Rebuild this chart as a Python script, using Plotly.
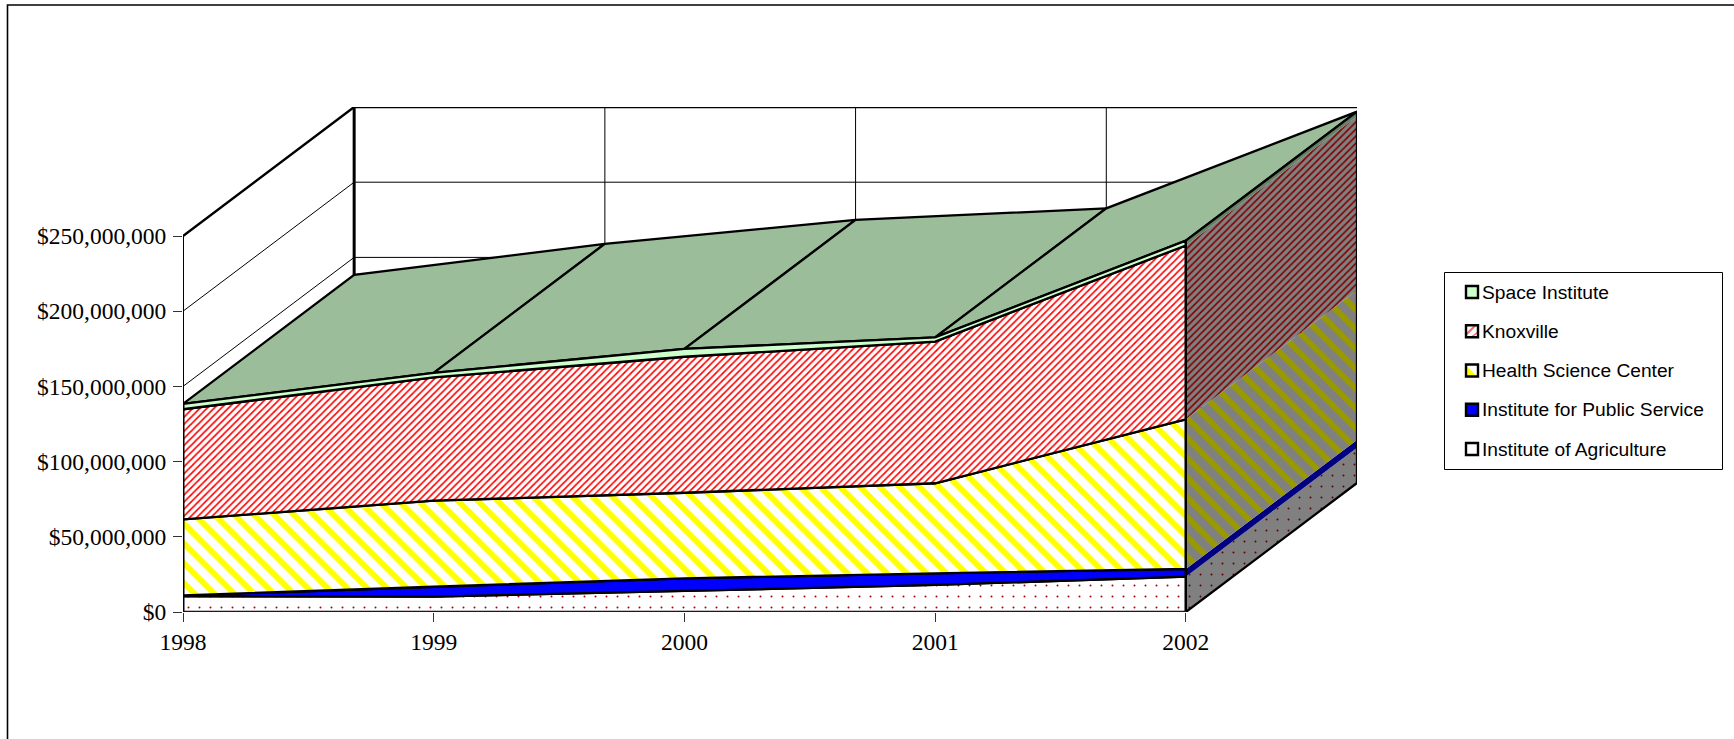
import numpy as np
import plotly.graph_objects as go

# ---- data (dollars) ----
years = [1998, 1999, 2000, 2001, 2002]
agriculture = [10.5e6, 10.2e6, 14.0e6, 18.0e6, 23.5e6]
public_service = [0.5e6, 6.6e6, 8.4e6, 7.7e6, 5.1e6]
health_science = [50.6e6, 57.2e6, 56.9e6, 59.9e6, 99.5e6]
knoxville = [73.2e6, 82.0e6, 90.4e6, 94.2e6, 115.6e6]
space_institute = [3.6e6, 3.0e6, 5.2e6, 2.8e6, 3.2e6]
y_ticks = [0, 50e6, 100e6, 150e6, 200e6, 250e6]
series_names = ["Institute of Agriculture", "Institute for Public Service",
                "Health Science Center", "Knoxville", "Space Institute"]

# ---- layout constants ----
W, H = 1734, 739
ML, MR, MT, MB = 183, 377, 107, 127
DEPTH_X = 171 / 250.5      # years per full depth
DEPTH_Y = 129 / 1.504e-6   # dollars per full depth


def px(x):
    return (x - ML) / (W - ML - MR)


def py(y):
    return 1 - (y - MT) / (H - MT - MB)


def proj(x, v, d=0.0):
    x, v = np.asarray(x, float), np.asarray(v, float)
    return x + DEPTH_X * d, v + DEPTH_Y * d


BLACK = "#000000"
styles = {
    "Institute of Agriculture": dict(
        front=dict(shape=".", size=11, solidity=0.025, fgcolor="#B00000", bgcolor="#FFFFFF", fgopacity=1),
        side=dict(shape=".", size=11, solidity=0.025, fgcolor="#600000", bgcolor="#808080", fgopacity=1)),
    "Institute for Public Service": dict(solid="#0000FF", side_solid="#000080"),
    "Health Science Center": dict(
        front=dict(shape="\\", size=14, solidity=0.42, fgcolor="#FFFF00", bgcolor="#FFFFFF", fgopacity=1),
        side=dict(shape="\\", size=14, solidity=0.42, fgcolor="#999900", bgcolor="#808080", fgopacity=1)),
    "Knoxville": dict(
        front=dict(shape="/", size=5, solidity=0.33, fgcolor="#FF0000", bgcolor="#FFFFFF", fgopacity=1),
        side=dict(shape="/", size=5, solidity=0.33, fgcolor="#800000", bgcolor="#808080", fgopacity=1)),
    "Space Institute": dict(solid="#CCFFCC", side_solid="#668066"),
}

values = [agriculture, public_service, health_science, knoxville, space_institute]
tops = np.cumsum(np.array(values, float), axis=0)
bottoms = np.vstack([np.zeros(len(years)), tops[:-1]])
yr = np.array(years, float)

fig = go.Figure()


def line(x, y, width=1.0, color=BLACK, name="frame"):
    fig.add_trace(go.Scatter(x=list(x), y=list(y), mode="lines", cliponaxis=False,
                             line=dict(color=color, width=width), hoverinfo="skip",
                             showlegend=False, name=name))


def poly(x, y, lw, fillcolor=None, pattern=None, name=""):
    kw = dict(fillcolor=fillcolor) if fillcolor else dict(fillpattern=pattern, fillcolor=pattern["bgcolor"])
    fig.add_trace(go.Scatter(x=list(x), y=list(y), mode="lines", fill="toself", cliponaxis=False,
                             line=dict(color=BLACK, width=lw), hoverinfo="skip",
                             showlegend=False, name=name, **kw))


# ---- walls and grid ----
vmax = y_ticks[-1]
for t in y_ticks[1:-1]:
    x0, y0 = proj(yr[0], t, 0)
    x1, y1 = proj(yr[0], t, 1)
    x2, y2 = proj(yr[-1], t, 1)
    line([x0, x1, x2], [y0, y1, y2], 1.0, BLACK, "grid")
for yy in yr[1:-1]:
    xx, v = proj([yy, yy], [0, vmax], 1)
    line(xx, v, 1.0, BLACK, "grid")
xx, v = proj([yr[0], yr[0]], [0, vmax], 1)
line(xx, v, 3.0, BLACK, "back-left edge")
x0, y0 = proj(yr[0], vmax, 0)
x1, y1 = proj(yr[0], vmax, 1)
x2, y2 = proj(yr[-1], vmax, 1)
line([x0, x1, x2], [y0, y1, y2], 2.4, BLACK, "top edge")
xx, v = proj([yr[0], yr[0]], [0, vmax], 0)
line(xx, v, 2.0, BLACK, "front-left edge")

# ---- top surface of the stack ----
top = tops[-1]
for i in range(len(yr) - 1):
    xf, vf = proj(yr[i:i + 2], top[i:i + 2], 0)
    xb, vb = proj(yr[i:i + 2], top[i:i + 2], 1)
    poly(list(xf) + list(xb[::-1]) + [xf[0]], list(vf) + list(vb[::-1]) + [vf[0]],
         2.3, fillcolor="#9CBD9A", name="Space Institute top")

# ---- right hand side faces ----
for k, name in enumerate(series_names):
    st = styles[name]
    xs = [yr[-1], yr[-1], yr[-1], yr[-1]]
    vs = [bottoms[k][-1], tops[k][-1], tops[k][-1], bottoms[k][-1]]
    ds = [0, 0, 1, 1]
    px_, pv_ = zip(*[proj(a, b, c) for a, b, c in zip(xs, vs, ds)])
    px_, pv_ = list(map(float, px_)), list(map(float, pv_))
    if "solid" in st:
        poly(px_, pv_, 0, fillcolor=st["side_solid"], name=name + " side")
    else:
        poly(px_, pv_, 0, pattern=st["side"], name=name + " side")

# ---- front faces ----
for k, name in enumerate(series_names):
    st = styles[name]
    xf = list(yr) + list(yr[::-1]) + [yr[0]]
    vf = list(tops[k]) + list(bottoms[k][::-1]) + [tops[k][0]]
    lw = 2.3
    if "solid" in st:
        poly(xf, vf, lw, fillcolor=st["solid"], name=name)
    else:
        poly(xf, vf, lw, pattern=st["front"], name=name)

# ---- outline of the side and the base ----
x0, y0 = proj(yr[-1], 0, 0)
x1, y1 = proj(yr[-1], 0, 1)
x2, y2 = proj(yr[-1], top[-1], 1)
x3, y3 = proj(yr[-1], top[-1], 0)
line([x3, x0, x1, x2, x3], [y3, y0, y1, y2, y3], 2.3, BLACK, "side outline")
xx, v = proj([yr[0], yr[-1]], [0, 0], 0)
line(xx, v, 1.5, "#222222", "base")
xx, v = proj([yr[0], yr[0]], [0, top[0]], 0)
line(xx, v, 2.8, BLACK, "front-left edge")

# ---- frame, legend box and swatches ----
shapes = [
    dict(type="rect", xref="paper", yref="paper", layer="below",
         x0=px(7.5), x1=px(1800), y0=py(5), y1=py(800),
         line=dict(color=BLACK, width=1.6), fillcolor="#FFFFFF"),
    dict(type="rect", xref="paper", yref="paper", layer="above",
         x0=px(1444.5), x1=px(1722.5), y0=py(272.5), y1=py(469.5),
         line=dict(color=BLACK, width=1), fillcolor="#FFFFFF"),
]
annotations = []
legend_order = series_names[::-1]
swatch_fill = {"Space Institute": "#CCFFCC", "Knoxville": "#FFFFFF",
               "Health Science Center": "#FFFFFF", "Institute for Public Service": "#0000FF",
               "Institute of Agriculture": "#FFFFFF"}
SW = 12
for i, name in enumerate(legend_order):
    cy = 292 + i * 39.25
    xa, xb, ya, yb = 1466, 1466 + SW, cy - SW / 2, cy + SW / 2
    shapes.append(dict(type="rect", xref="paper", yref="paper", layer="above",
                       x0=px(xa), x1=px(xb), y0=py(ya), y1=py(yb),
                       line=dict(width=0), fillcolor=swatch_fill[name]))
    if name == "Knoxville":
        pts = [(xa, ya + 8), (xa + 8, ya), (xa + 11, ya), (xa, yb - 1)]
        pts2 = [(xb, ya + 6), (xb, ya + 8), (xa + 6, yb), (xa + 4, yb)]
        for p, col in ((pts, "#FF6666"), (pts2, "#FF6666")):
            path = "M" + " L".join(f"{px(a):.5f},{py(b):.5f}" for a, b in p) + " Z"
            shapes.append(dict(type="path", xref="paper", yref="paper", layer="above",
                               path=path, line=dict(width=0), fillcolor=col))
    if name == "Health Science Center":
        path = "M" + " L".join(f"{px(a):.5f},{py(b):.5f}" for a, b in
                               [(xa, ya + 1), (xb - 1, yb), (xa, yb)]) + " Z"
        shapes.append(dict(type="path", xref="paper", yref="paper", layer="above",
                           path=path, line=dict(width=0), fillcolor="#FFFF00"))
    shapes.append(dict(type="rect", xref="paper", yref="paper", layer="above",
                       x0=px(xa), x1=px(xb), y0=py(ya), y1=py(yb),
                       line=dict(color=BLACK, width=2.4), fillcolor="rgba(0,0,0,0)"))
    annotations.append(dict(text=name, xref="paper", yref="paper", x=px(1480), y=py(cy),
                            xanchor="left", yanchor="middle", showarrow=False,
                            font=dict(family="Liberation Sans, Arial", size=19.2, color=BLACK)))

fig.update_layout(
    width=W, height=H,
    margin=dict(l=ML, r=MR, t=MT, b=MB, pad=0),
    paper_bgcolor="#FFFFFF", plot_bgcolor="rgba(0,0,0,0)",
    showlegend=False,
    font=dict(family="Liberation Serif, Times New Roman", size=23.5, color=BLACK),
    xaxis=dict(range=[yr[0], yr[-1] + DEPTH_X], tickmode="array", tickvals=years,
               ticktext=[str(y) for y in years], ticks="outside", ticklen=9, tickwidth=1,
               tickcolor="#333333", showgrid=False, zeroline=False, showline=False,
               ticklabelstandoff=0),
    yaxis=dict(range=[0, DEPTH_Y + vmax], tickmode="array", tickvals=y_ticks,
               tickformat="$,.0f", ticks="outside", ticklen=9, tickwidth=1,
               tickcolor="#333333", showgrid=False, zeroline=False, showline=False,
               ticklabelstandoff=2),
    shapes=shapes, annotations=annotations,
)

fig.write_html("out.html", config={"displayModeBar": False},
               post_script="document.body.style.margin='0';document.body.style.overflow='hidden';")
